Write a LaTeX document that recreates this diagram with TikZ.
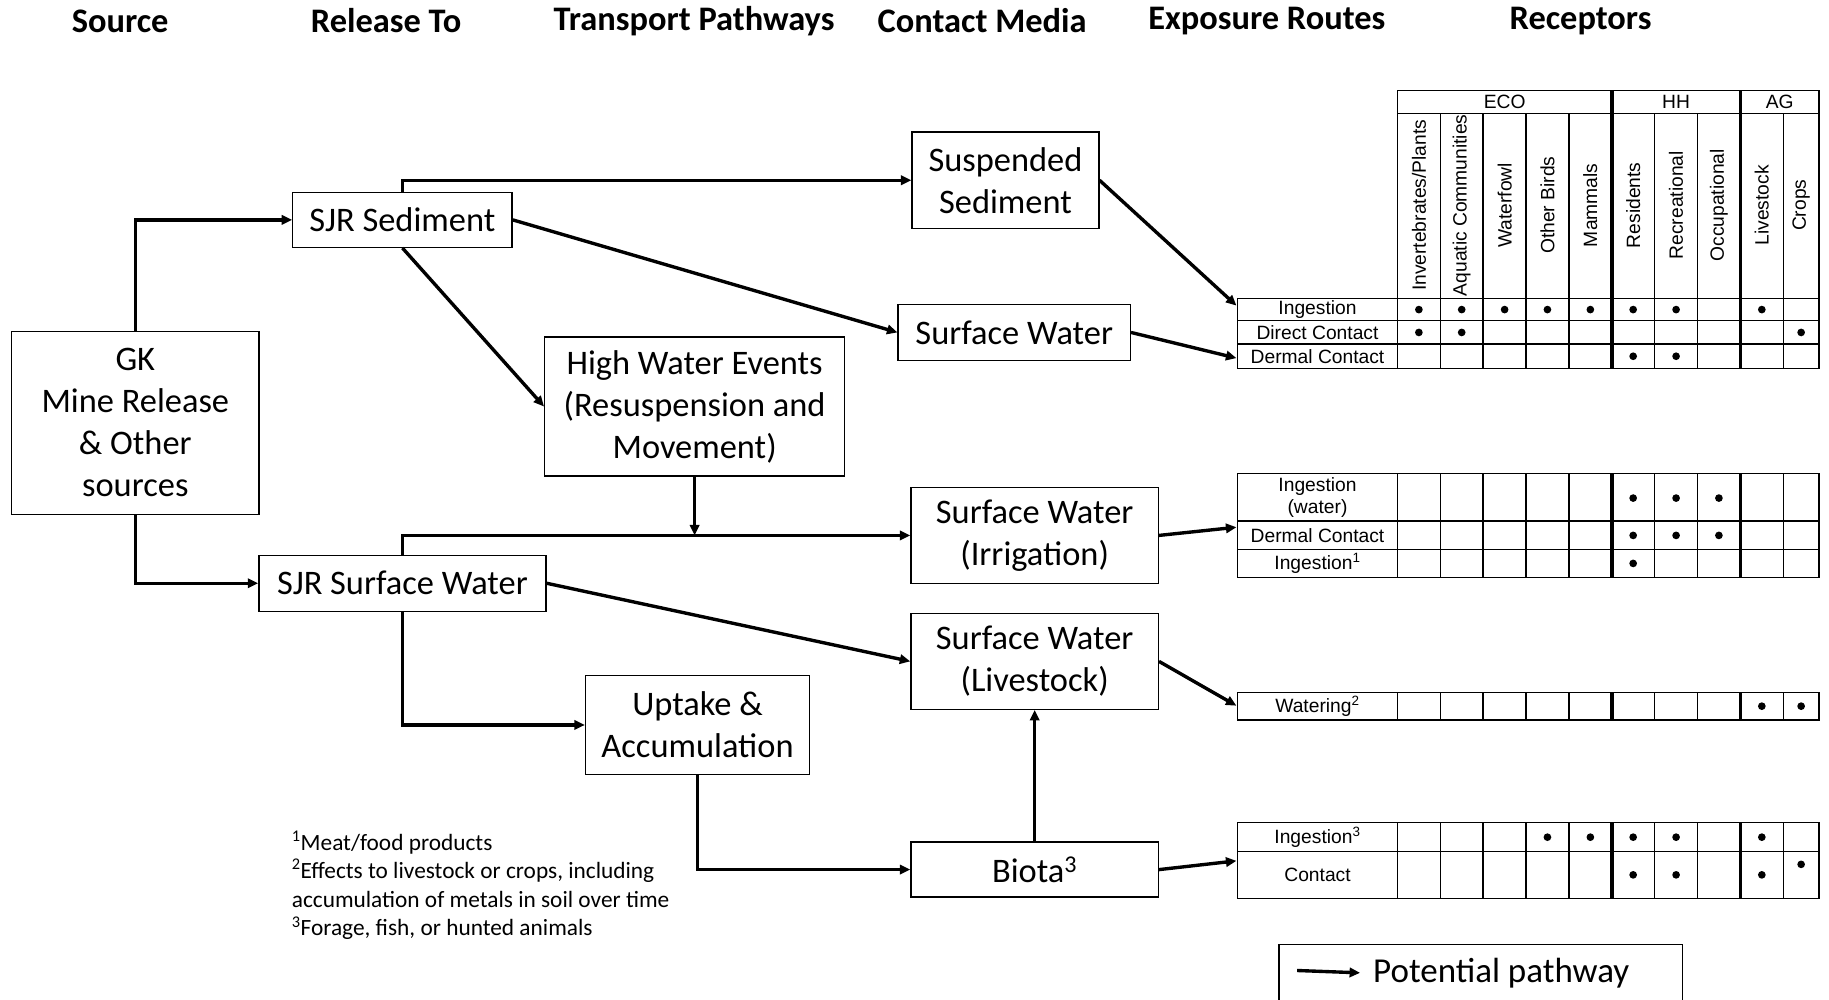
\documentclass[tikz,border=0pt]{standalone}
\usepackage{fontspec}
\setmainfont{Carlito}
\newfontfamily\tabfont{Liberation Sans}
\usetikzlibrary{arrows.meta}

\begin{document}
\begin{tikzpicture}[x=1pt, y=-1pt,
        box/.style={draw, line width=1.2pt, align=center, inner sep=0pt, font=\fontsize{29.5}{36}\selectfont},
        flow/.style={line width=2.9pt, -{Triangle[length=9pt,width=8pt]}},
        heading/.style={font=\fontsize{29.5}{33}\selectfont\bfseries},
        cell/.style={font=\tabfont\fontsize{16.5}{18.5}\selectfont, align=center, inner sep=0pt},
        tabline/.style={line width=1.2pt},
        tabsep/.style={line width=3pt}]
        \useasboundingbox (0,0) rectangle (1568,857);

        % Column headings
        \node[heading] (hsrc) at (103,18) {Source};
        \node[heading] (hrel) at (331,18) {Release To};
        \node[heading] (htra) at (595,18) {Transport Pathways};
        \node[heading] (hcon) at (842,18) {Contact Media};
        \node[heading] (hexp) at (1086,18) {Exposure Routes};
        \node[heading] (hrec) at (1355,18) {Receptors};

        % Draw the boxes
        \node[box, minimum width=212, minimum height=157] (src) at (116,362.5) {GK\\Mine Release\\\& Other\\sources};
        \node[box, minimum width=188, minimum height=47] (sed) at (345,188.5) {SJR Sediment};
        \node[box, minimum width=246, minimum height=48] (sws) at (345,500) {SJR Surface Water};
        \node[box, minimum width=257, minimum height=119] (hwe) at (595.5,348.5) {High Water Events\\(Resuspension and\\Movement)};
        \node[box, minimum width=192, minimum height=85] (upt) at (598,621.5) {Uptake \&\\Accumulation};
        \node[box, minimum width=160, minimum height=83] (susp) at (862,154.5) {Suspended\\Sediment};
        \node[box, minimum width=199, minimum height=48] (sw) at (869.5,285) {Surface Water};
        \node[box, minimum width=212, minimum height=82] (irr) at (887,459) {Surface Water\\(Irrigation)};
        \node[box, minimum width=212, minimum height=82] (live) at (887,567) {Surface Water\\(Livestock)};
        \node[box, minimum width=212, minimum height=47] (biota) at (887,745.5) {Biota\textsuperscript{3}};

        % Where the pathways enter the tables
        \coordinate (in1) at (1060,262);
        \coordinate (in2) at (1060,307);
        \coordinate (in3) at (1060,452);
        \coordinate (in4) at (1060,605);
        \coordinate (in5) at (1060,738);

        % Draw the pathways
        \draw[flow] (src.north) |- (sed.west);
        \draw[flow] (src.south) |- (sws.west);
        \draw[flow] (sed.north) |- (susp.west);
        \draw[flow] (sed.east) -- (sw.west);
        \draw[flow] (sed.south) -- (hwe.west);
        \draw[flow] (hwe.south) -- (hwe.south |- irr.west);
        \draw[flow] (sws.north) |- (irr.west);
        \draw[flow] (sws.east) -- (live.west);
        \draw[flow] (sws.south) |- (upt.west);
        \draw[flow] (upt.south) |- (biota.west);
        \draw[flow] (biota.north) -- (live.south);
        \draw[flow] (susp.east) -- (in1);
        \draw[flow] (sw.east) -- (in2);
        \draw[flow] (irr.east) -- (in3);
        \draw[flow] (live.east) -- (in4);
        \draw[flow] (biota.east) -- (in5);

        % Receptor tables
        \draw[tabline] (1198,77.7) rectangle (1559.5,255.8);
        \draw[tabline] (1198,97.1) -- (1559.5,97.1);
        \foreach \x in {1234.75,1271.5,1308.25,1345,1418.5,1455.25,1528.75}
            \draw[tabline] (\x,97.1) -- (\x,255.8);
        \foreach \x in {1381.75,1492}
            \draw[tabsep] (\x,77.7) -- (\x,255.8);
        \foreach \yt/\yb in {255.8/315.8, 405.8/495.2, 593.5/617.2, 705.2/770.1} {
            \draw[tabline] (1061,\yt) rectangle (1559.5,\yb);
            \foreach \x in {1198,1234.75,1271.5,1308.25,1345,1418.5,1455.25,1528.75}
                \draw[tabline] (\x,\yt) -- (\x,\yb);
            \foreach \x in {1381.75,1492}
                \draw[tabsep] (\x,\yt) -- (\x,\yb);
        }
        \foreach \y in {275,295,446.6,470.9,730.1}
            \draw[tabline] (1061,\y) -- (1559.5,\y);

        % Receptor groups and names
        \node[cell] (eco) at (1289.9,87.4) {ECO};
        \node[cell] (hh) at (1436.9,87.4) {HH};
        \node[cell] (ag) at (1525.75,87.4) {AG};
        \foreach \x/\lbl [count=\i] in {1216.4/{Invertebrates/Plants}, 1253.1/Aquatic Communities,
                1289.9/Waterfowl, 1326.6/Other Birds, 1363.4/Mammals, 1400.1/Residents,
                1436.9/Recreational, 1473.6/Occupational, 1510.4/Livestock, 1544.1/Crops}
            \node[cell, rotate=90] (rec\i) at (\x,176) {\lbl};

        % Exposure routes
        \node[cell] (ing1) at (1129.5,265.4) {Ingestion};
        \node[cell] (dir1) at (1129.5,285) {Direct Contact};
        \node[cell] (der1) at (1129.5,305.4) {Dermal Contact};
        \node[cell] (ing2) at (1129.5,426.5) {Ingestion\\(water)};
        \node[cell] (der2) at (1129.5,458.8) {Dermal Contact};
        \node[cell] (ing3) at (1129.5,483) {Ingestion\textsuperscript{1}};
        \node[cell] (wat) at (1129.5,605.4) {Watering\textsuperscript{2}};
        \node[cell] (ing4) at (1129.5,717.7) {Ingestion\textsuperscript{3}};
        \node[cell] (con) at (1129.5,750) {Contact};

        % Mark the complete pathways
        \foreach \x/\y in {1216.4/265.4, 1253.1/265.4, 1289.9/265.4, 1326.6/265.4, 1363.4/265.4,
                1400.1/265.4, 1436.9/265.4, 1510.4/265.4,
                1216.4/285, 1253.1/285, 1544.1/285,
                1400.1/305.4, 1436.9/305.4,
                1400.1/427, 1436.9/427, 1473.6/427,
                1400.1/459, 1436.9/459, 1473.6/459,
                1400.1/483,
                1510.4/605.4, 1544.1/605.4,
                1326.6/717.7, 1363.4/717.7, 1400.1/717.7, 1436.9/717.7, 1510.4/717.7,
                1400.1/750, 1436.9/750, 1510.4/750, 1544.1/741}
            \fill (\x,\y) circle (3.3);

        % Footnotes
        \node[anchor=north west, align=left, inner sep=0pt, font=\fontsize{20}{24.5}\selectfont] (notes) at (250,712)
            {\textsuperscript{1}Meat/food products\\
             \textsuperscript{2}Effects to livestock or crops, including\\
             accumulation of metals in soil over time\\
             \textsuperscript{3}Forage, fish, or hunted animals};

        % Legend
        \draw[tabline] (1096.5,809.6) rectangle (1442.5,880);
        \coordinate (lga) at (1112,832);
        \node[anchor=west, inner sep=0pt, font=\fontsize{30}{36}\selectfont] (lgt) at (1177,834) {Potential pathway};
        \draw[flow] (lga) -- ([xshift=-11pt]lgt.west);
    \end{tikzpicture}
\end{document}
